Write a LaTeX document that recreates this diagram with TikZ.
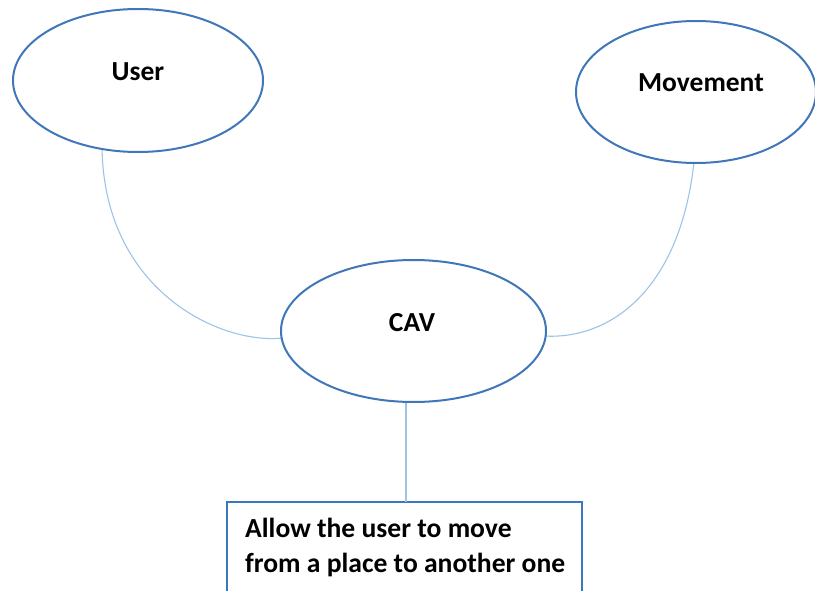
\documentclass[tikz,border=0pt]{standalone}
\usepackage{fontspec}
\setmainfont{Carlito}
\usetikzlibrary{shapes.geometric}
\definecolor{ellblue}{HTML}{3F77B9}
\definecolor{linkblue}{HTML}{9DC3E6}
\definecolor{boxblue}{HTML}{3A78BE}
\tikzset{
  bubble/.style={draw=ellblue, line width=2pt, ellipse, inner sep=0pt, fill=white},
  link/.style={draw=linkblue, line width=1.1pt},
  lbl/.style={anchor=base, font=\bfseries\fontsize{27.5}{32}\selectfont, inner sep=0pt},
  notetext/.style={anchor=base west, inner sep=0pt, font=\bfseries\fontsize{27.6}{35}\selectfont},
  note/.style={draw=boxblue, line width=2pt}
}
\begin{document}
\begin{tikzpicture}[x=1pt,y=-1pt]
\useasboundingbox (0,0) rectangle (815,591);
% connectors (behind ellipses)
\coordinate (uStart) at (102,144);
\coordinate (mStart) at (694,162);
\coordinate (cBottom) at (406,401);
\draw[link] (uStart) .. controls (102,290) and (220,345) .. (283,338);
\draw[link] (mStart) .. controls (680,290) and (610,340) .. (544,336);
% ellipses
\node[bubble, minimum width=250pt, minimum height=143pt] (user) at (138,80.5) {};
\node[bubble, minimum width=240pt, minimum height=142pt] (move) at (696,92) {};
\node[bubble, minimum width=265pt, minimum height=142pt] (cav) at (413.5,331) {};
\node[lbl] (userT) at (138,81) {User};
\node[lbl] (moveT) at (701,92) {Movement};
\node[lbl] (cavT) at (412,331) {CAV};
% box
\coordinate (boxTL) at (227,502);
\coordinate (boxBR) at (582,610);
\draw[note] (boxTL) rectangle (boxBR);
\coordinate (boxTop) at (406,502);
\draw[link] (cav.south -| cBottom) -- (boxTop);
\node[notetext] (noteT1) at (245,537) {Allow the user to move};
\node[notetext] (noteT2) at (245,572) {from a place to another one};
\end{tikzpicture}
\end{document}
